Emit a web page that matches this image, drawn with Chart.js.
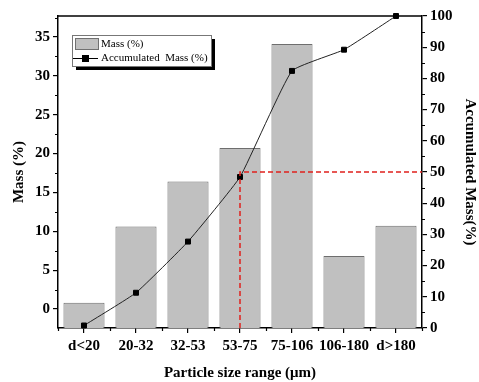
<!DOCTYPE html>
<html><head><meta charset="utf-8">
<script src="https://cdn.jsdelivr.net/npm/chart.js@4"></script>
<style>html,body{margin:0;padding:0;background:#fff}#wrap{width:479px;height:382px;position:relative}</style>
</head><body><div id="wrap"><canvas id="c"></canvas></div>
<script>
const categories = ['d<20', '20-32', '32-53', '53-75', '75-106', '106-180', 'd>180'];
const massPercent = [0.8, 10.6, 16.4, 20.7, 34.1, 6.8, 10.7];
const accumulatedMass = [0.8, 11.3, 27.7, 48.4, 82.4, 89.2, 100];
const leftTicks = [0, 5, 10, 15, 20, 25, 30, 35];
const rightTicks = [0, 10, 20, 30, 40, 50, 60, 70, 80, 90, 100];
const guideCategory = '53-75';
const guideLevel = 50;
const legendLabels = ['Mass (%)', 'Accumulated  Mass (%)'];

const FONT = '"Liberation Serif", "Times New Roman", serif';

const minorTicks = {
  id: 'minorTicks',
  afterDraw(chart) {
    const ctx = chart.ctx, a = chart.chartArea;
    const y = chart.scales.y, y1 = chart.scales.y1, x = chart.scales.x;
    ctx.save();
    ctx.strokeStyle = '#000'; ctx.lineWidth = 1.2;
    ctx.beginPath();
    for (let i = 0; i < leftTicks.length; i++) {
      const v = leftTicks[i] + 2.5;
      if (v < y.max) { const p = Math.round(y.getPixelForValue(v)) + 0.5; ctx.moveTo(a.left, p); ctx.lineTo(a.left - 3, p); }
    }
    { const p = Math.round(y.getPixelForValue(-2.5)) + 0.5; if (p <= a.bottom) { ctx.moveTo(a.left, p); ctx.lineTo(a.left - 3, p); } }
    for (let i = 0; i < rightTicks.length - 1; i++) {
      const p = Math.round(y1.getPixelForValue(rightTicks[i] + 5)) + 0.5;
      ctx.moveTo(a.right, p); ctx.lineTo(a.right + 3, p);
    }
    for (let i = 0; i <= categories.length; i++) {
      const p = Math.round(x.getPixelForValue(i - 0.5)) + 0.5;
      ctx.moveTo(p, a.bottom); ctx.lineTo(p, a.bottom + 3);
    }
    ctx.stroke();
    ctx.lineWidth = 1.5;
    ctx.beginPath(); ctx.moveTo(a.left, a.top); ctx.lineTo(a.right, a.top); ctx.stroke();
    ctx.restore();
  }
};

const guideLines = {
  id: 'guideLines',
  afterDatasetsDraw(chart) {
    const ctx = chart.ctx, a = chart.chartArea;
    const x = chart.scales.x, y1 = chart.scales.y1;
    const gx = x.getPixelForValue(categories.indexOf(guideCategory));
    const gy = y1.getPixelForValue(guideLevel);
    ctx.save();
    ctx.strokeStyle = '#e0201c'; ctx.lineWidth = 1.5; ctx.setLineDash([5, 3]);
    ctx.beginPath();
    ctx.moveTo(gx, a.bottom); ctx.lineTo(gx, gy); ctx.lineTo(a.right, gy);
    ctx.stroke();
    ctx.restore();
  }
};

const boxLegend = {
  id: 'boxLegend',
  afterDraw(chart) {
    const ctx = chart.ctx;
    const bx = 72, by = 35, bw = 139, bh = 31;
    ctx.save();
    ctx.fillStyle = '#000';
    ctx.fillRect(bx + 4, by + 4, bw, bh);
    ctx.fillStyle = '#fff';
    ctx.fillRect(bx, by, bw, bh);
    ctx.strokeStyle = '#777'; ctx.lineWidth = 1;
    ctx.strokeRect(bx + 0.5, by + 0.5, bw, bh);
    ctx.fillStyle = '#c0c0c0'; ctx.strokeStyle = '#707070';
    ctx.fillRect(75, 38, 23, 11); ctx.strokeRect(75.5, 38.5, 23, 11);
    ctx.strokeStyle = '#000'; ctx.lineWidth = 1;
    ctx.beginPath(); ctx.moveTo(73, 58.5); ctx.lineTo(98, 58.5); ctx.stroke();
    ctx.fillStyle = '#000'; ctx.fillRect(82, 55, 7, 7);
    ctx.font = '11px ' + FONT; ctx.textBaseline = 'middle'; ctx.textAlign = 'left';
    ctx.fillText(legendLabels[0], 101, 44);
    ctx.fillText(legendLabels[1], 101, 58);
    ctx.restore();
  }
};

const tickFont = { family: FONT, size: 15, weight: 'bold' };
const titleFont = { family: FONT, size: 15, weight: 'bold' };

new Chart(document.getElementById('c'), {
  data: {
    labels: categories,
    datasets: [
      {
        type: 'line', label: legendLabels[1], data: accumulatedMass, yAxisID: 'y1',
        borderColor: '#222', borderWidth: 1, pointStyle: 'rect', pointRadius: 3.5,
        pointBackgroundColor: '#000', pointBorderColor: '#000', tension: 0.12,
        order: 0, clip: false
      },
      {
        type: 'bar', label: legendLabels[0], data: massPercent, yAxisID: 'y',
        backgroundColor: '#c0c0c0', borderColor: '#6e6e6e', borderWidth: 1,
        categoryPercentage: 0.79, barPercentage: 1, order: 1,
        base: -2.45
      }
    ]
  },
  options: {
    responsive: true, maintainAspectRatio: false, animation: false,
    layout: { padding: { top: 16, left: 0, right: 0, bottom: 0 } },
    plugins: { legend: { display: false }, tooltip: { enabled: false } },
    scales: {
      x: {
        type: 'category', offset: true,
        grid: { display: true, drawOnChartArea: false, offset: false, tickLength: 5, color: '#000', lineWidth: 1.2 },
        border: { display: true, color: '#000', width: 1.5 },
        ticks: { color: '#000', font: tickFont, padding: 4, maxRotation: 0, autoSkip: false },
        title: { display: true, text: 'Particle size range (\u03bcm)', color: '#000', font: titleFont, padding: { top: 4, bottom: 0 } },
        afterFit(s) { s.height = 54; }
      },
      y: {
        type: 'linear', position: 'left', min: -2.45, max: 37.7,
        afterBuildTicks(s) { s.ticks = leftTicks.map(v => ({ value: v })); },
        grid: { display: true, drawOnChartArea: false, tickLength: 5, color: '#000', lineWidth: 1.2 },
        border: { display: true, color: '#000', width: 1.5 },
        ticks: { color: '#000', font: tickFont, padding: 3 },
        title: { display: true, text: 'Mass (%)', color: '#000', font: titleFont, padding: { top: 10, bottom: 0 } },
        afterFit(s) { s.width = 58; }
      },
      y1: {
        type: 'linear', position: 'right', min: 0, max: 100,
        afterBuildTicks(s) { s.ticks = rightTicks.map(v => ({ value: v })); },
        grid: { display: true, drawOnChartArea: false, tickLength: 5, color: '#000', lineWidth: 1.2 },
        border: { display: true, color: '#000', width: 1.5 },
        ticks: { color: '#000', font: tickFont, padding: 3 },
        title: { display: true, text: 'Accumulated Mass(%)', color: '#000', font: titleFont, padding: { top: 0, bottom: 6 } },
        afterFit(s) { s.width = 57; }
      }
    }
  },
  plugins: [guideLines, minorTicks, boxLegend]
});
</script>
</body></html>
